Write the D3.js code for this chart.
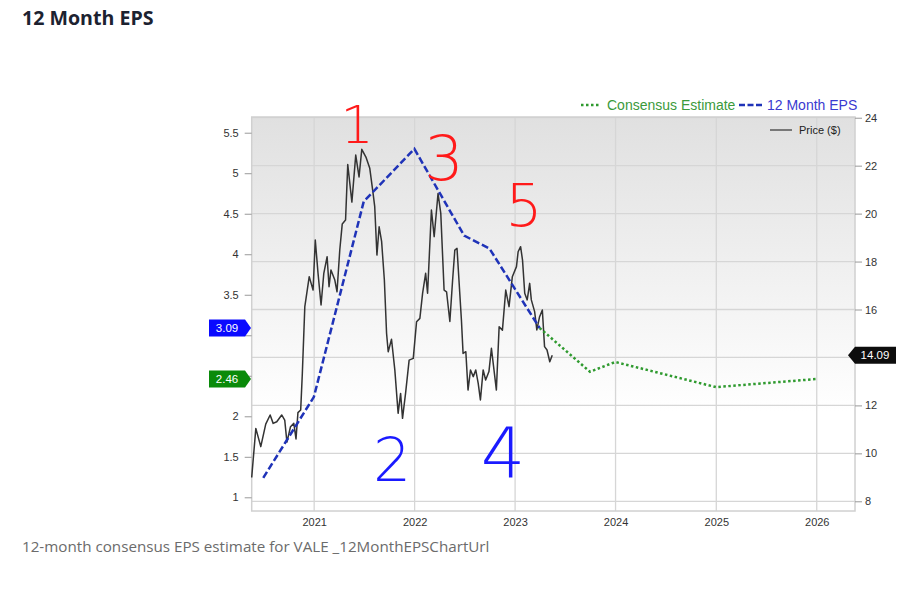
<!DOCTYPE html>
<html><head><meta charset="utf-8">
<script src="https://cdn.jsdelivr.net/npm/d3@7/dist/d3.min.js"></script>
<style>
body{margin:0;background:#fff;}
svg{display:block;}
</style></head>
<body>
<svg id="chart" width="916" height="594"></svg>
<script>
// ---------- DATA ----------
const priceDates = ["2020-05-19","2020-06-03","2020-06-21","2020-07-09","2020-07-25","2020-08-05","2020-08-18","2020-09-05","2020-09-16","2020-09-24",
"2020-10-07","2020-10-19","2020-10-27","2020-11-03","2020-11-13","2020-11-19","2020-11-28","2020-12-14","2020-12-28","2021-01-05",
"2021-01-15","2021-01-26","2021-02-05","2021-02-17","2021-02-24","2021-03-03","2021-03-17","2021-03-25","2021-04-04","2021-04-13",
"2021-04-25","2021-05-03","2021-05-18","2021-06-01","2021-06-13","2021-06-23","2021-07-08","2021-07-22","2021-08-02","2021-08-09",
"2021-08-17","2021-08-25","2021-09-03","2021-09-13","2021-09-21","2021-09-27","2021-10-09","2021-10-21","2021-11-02","2021-11-11",
"2021-11-18","2021-11-29","2021-12-12","2021-12-27","2022-01-08","2022-01-20","2022-01-30","2022-02-10","2022-02-17","2022-03-03",
"2022-03-13","2022-03-27","2022-04-06","2022-04-18","2022-04-27","2022-05-09","2022-05-19","2022-05-27","2022-06-04","2022-06-20",
"2022-06-26","2022-07-06","2022-07-14","2022-07-23","2022-08-02","2022-08-11","2022-08-20","2022-08-28","2022-09-07","2022-09-16",
"2022-09-28","2022-10-07","2022-10-15","2022-10-25","2022-11-04","2022-11-16","2022-11-28","2022-12-10","2022-12-22","2023-01-06",
"2023-01-12","2023-01-21","2023-01-28","2023-02-05","2023-02-14","2023-02-23","2023-03-01","2023-03-13","2023-03-21","2023-03-31",
"2023-04-10","2023-04-18","2023-04-27","2023-05-07","2023-05-16"];
const priceValues = [8.99,11.04,10.28,11.22,11.60,11.25,11.32,11.60,11.39,10.47,
11.11,11.25,10.60,11.70,11.81,13.34,16.12,17.37,16.81,18.90,
17.51,16.19,17.51,18.20,16.95,17.65,17.23,16.74,18.48,19.57,
19.73,22.05,20.48,22.44,21.53,22.68,22.36,21.89,20.94,20.29,
18.27,19.45,18.84,17.23,15.01,14.24,14.76,13.48,11.67,12.50,
11.46,12.50,13.89,13.96,15.49,15.63,16.68,17.51,16.68,20.15,
19.04,20.84,20.01,16.81,16.74,15.50,17.23,18.48,18.55,15.56,
14.17,14.24,12.64,13.48,13.20,13.48,12.92,12.23,13.48,13.06,
13.41,14.38,13.61,12.64,15.28,15.14,16.81,16.12,17.37,17.79,
18.41,18.62,18.06,16.68,16.40,17.09,16.40,15.91,15.15,15.70,
15.98,14.45,14.31,13.82,14.09];

const epsDates  = ["2020-06-30","2020-12-31","2021-06-30","2021-12-31","2022-06-30","2022-09-30","2023-03-31"];
const epsValues = [1.24,2.24,4.65,5.30,4.23,4.07,3.09];

const consDates  = ["2023-03-31","2023-09-30","2023-12-31","2024-12-31","2025-12-31"];
const consValues = [3.09,2.55,2.67,2.36,2.46];

const xDomain = ["2020-05-19","2026-05-20"];
const yearTicks = ["2021-01-01","2022-01-01","2023-01-01","2024-01-01","2025-01-01","2026-01-01"];
const leftDomain = [0.831, 5.694];
const leftTicks = [1,1.5,2,2.5,3,3.5,4,4.5,5,5.5];
const rightDomain = [7.595, 24.03];
const rightTicks = [8,10,12,14,16,18,20,22,24];

const titleText = "12 Month EPS";
const captionText = "12-month consensus EPS estimate for VALE _12MonthEPSChartUrl";
const legendLabels = ["Consensus Estimate","12 Month EPS","Price ($)"];
const tagLabels = ["3.09","2.46","14.09"];
const annotations = ["1","3","5","2","4"];

// ---------- LAYOUT ----------
const parse = d3.utcParse("%Y-%m-%d");
const L = 251.7, R = 855, T = 117, B = 511;
const svg = d3.select("#chart");
const font = "'Liberation Sans', Arial, sans-serif";

const x = d3.scaleUtc().domain(xDomain.map(parse)).range([L, R]);
const yL = d3.scaleLinear().domain(leftDomain).range([B, T]);
const yR = d3.scaleLinear().domain(rightDomain).range([B, T]);

// title & caption
svg.append("text").attr("x", 22).attr("y", 24.5).text(titleText)
  .attr("font-family", "'Open Sans', sans-serif").attr("font-weight", 700)
  .attr("font-size", 19.6).attr("fill", "#1c2230");
svg.append("text").attr("x", 22).attr("y", 552).text(captionText)
  .attr("font-family", "'Open Sans', sans-serif").attr("font-size", 15.2)
  .attr("fill", "#6b6b6b");

// background gradient
const defs = svg.append("defs");
const g = defs.append("linearGradient").attr("id", "bg").attr("x1", 0).attr("x2", 0).attr("y1", 0).attr("y2", 1);
g.append("stop").attr("offset", "0%").attr("stop-color", "#e0e0e0");
g.append("stop").attr("offset", "75%").attr("stop-color", "#ffffff");
g.append("stop").attr("offset", "100%").attr("stop-color", "#ffffff");
svg.append("rect").attr("x", L).attr("y", T).attr("width", R - L).attr("height", B - T)
  .attr("fill", "url(#bg)");

// grid
const grid = svg.append("g").attr("stroke", "#d6d6d6").attr("stroke-width", 1.3);
rightTicks.forEach(v => grid.append("line").attr("x1", L).attr("x2", R).attr("y1", yR(v)).attr("y2", yR(v)));
yearTicks.map(parse).forEach(d => grid.append("line").attr("x1", x(d)).attr("x2", x(d)).attr("y1", T).attr("y2", B));

// border
svg.append("rect").attr("x", L).attr("y", T).attr("width", R - L).attr("height", B - T)
  .attr("fill", "none").attr("stroke", "#d0d0d0").attr("stroke-width", 1.5);

// axes (labels hidden behind the value tags are left blank, as in the original)
const lastEps = consValues[consValues.length - 1], curEps = epsValues[epsValues.length - 1];
const lastPrice = priceValues[priceValues.length - 1];
function styleAxis(sel){
  sel.select(".domain").remove();
  sel.selectAll("line").attr("stroke", "#999");
  sel.selectAll("text").attr("font-family", font).attr("font-size", 11).attr("fill", "#333");
}
const fmtL = d3.format("~g");
svg.append("g").attr("transform", `translate(${L},0)`)
  .call(d3.axisLeft(yL).tickValues(leftTicks).tickSize(7).tickPadding(6)
    .tickFormat(v => (Math.abs(yL(v) - yL(curEps)) < 12 || Math.abs(yL(v) - yL(lastEps)) < 12) ? "" : fmtL(v)))
  .call(styleAxis);
svg.append("g").attr("transform", `translate(${R},0)`)
  .call(d3.axisRight(yR).tickValues(rightTicks).tickSize(7).tickPadding(3)
    .tickFormat(v => Math.abs(yR(v) - yR(lastPrice)) < 12 ? "" : d3.format("d")(v)))
  .call(styleAxis);
svg.append("g").attr("transform", `translate(0,${B})`)
  .call(d3.axisBottom(x).tickValues(yearTicks.map(parse)).tickSize(0).tickPadding(7).tickFormat(d3.utcFormat("%Y")))
  .call(styleAxis);

// lines
const priceData = priceDates.map((d, i) => ({d: parse(d), v: priceValues[i]}));
const epsData = epsDates.map((d, i) => ({d: parse(d), v: epsValues[i]}));
const consData = consDates.map((d, i) => ({d: parse(d), v: consValues[i]}));

svg.append("path").datum(priceData)
  .attr("d", d3.line().x(p => x(p.d)).y(p => yR(p.v)))
  .attr("fill", "none").attr("stroke", "#333").attr("stroke-width", 1.5).attr("stroke-linejoin", "round");
svg.append("path").datum(consData)
  .attr("d", d3.line().x(p => x(p.d)).y(p => yL(p.v)))
  .attr("fill", "none").attr("stroke", "#2f9a2f").attr("stroke-width", 2.5).attr("stroke-dasharray", "2.5,2.5");
svg.append("path").datum(epsData)
  .attr("d", d3.line().x(p => x(p.d)).y(p => yL(p.v)))
  .attr("fill", "none").attr("stroke", "#1f33b8").attr("stroke-width", 2.5).attr("stroke-dasharray", "7,3");

// legend
svg.append("line").attr("x1", 581).attr("x2", 601).attr("y1", 105).attr("y2", 105)
  .attr("stroke", "#2f9a2f").attr("stroke-width", 2.5).attr("stroke-dasharray", "2.5,2.5");
svg.append("text").attr("x", 607).attr("y", 110).text(legendLabels[0])
  .attr("font-family", font).attr("font-size", 14).attr("fill", "#3b9a3b");
svg.append("line").attr("x1", 739).attr("x2", 764).attr("y1", 105).attr("y2", 105)
  .attr("stroke", "#1f33b8").attr("stroke-width", 2.5).attr("stroke-dasharray", "6,2.5");
svg.append("text").attr("x", 767).attr("y", 110).text(legendLabels[1])
  .attr("font-family", font).attr("font-size", 14).attr("fill", "#3a3ad0");
svg.append("line").attr("x1", 770).attr("x2", 792).attr("y1", 130).attr("y2", 130)
  .attr("stroke", "#555").attr("stroke-width", 1.5);
svg.append("text").attr("x", 799).attr("y", 134).text(legendLabels[2])
  .attr("font-family", font).attr("font-size", 11).attr("fill", "#222");

// tags
function tagLeft(yv, fill, label){
  const h = 8.5;
  svg.append("path").attr("d", `M209,${yv-h} L245,${yv-h} L251,${yv} L245,${yv+h} L209,${yv+h} Z`).attr("fill", fill);
  svg.append("text").attr("x", 227).attr("y", yv + 4).attr("text-anchor", "middle").text(label)
    .attr("font-family", font).attr("font-size", 11.5).attr("fill", "#fff");
}
tagLeft(yL(curEps), "#0a0aff", tagLabels[0]);
tagLeft(yL(lastEps), "#0a8a0a", tagLabels[1]);
{
  const yv = yR(lastPrice), h = 8.5;
  svg.append("path").attr("d", `M848,${yv} L855,${yv-h} L896,${yv-h} L896,${yv+h} L855,${yv+h} Z`).attr("fill", "#0d0d0d");
  svg.append("text").attr("x", 875).attr("y", yv + 4).attr("text-anchor", "middle").text(tagLabels[2])
    .attr("font-family", font).attr("font-size", 11.5).attr("fill", "#fff");
}

// hand-drawn annotations
const ann = [
  {t: annotations[0], x: 357, y: 143, s: 52, c: "#ff1a1a"},
  {t: annotations[1], x: 444, y: 180, s: 62, c: "#ff1a1a"},
  {t: annotations[2], x: 524, y: 226, s: 58, c: "#ff1a1a"},
  {t: annotations[3], x: 392, y: 481, s: 60, c: "#1a1aff"},
  {t: annotations[4], x: 503, y: 477, s: 70, c: "#1a1aff"}
];
ann.forEach(a => svg.append("text").attr("x", a.x).attr("y", a.y).attr("text-anchor", "middle").text(a.t)
  .attr("font-family", "'DejaVu Sans', sans-serif").attr("font-weight", 200)
  .attr("font-size", a.s).attr("fill", a.c));
</script>
</body></html>
